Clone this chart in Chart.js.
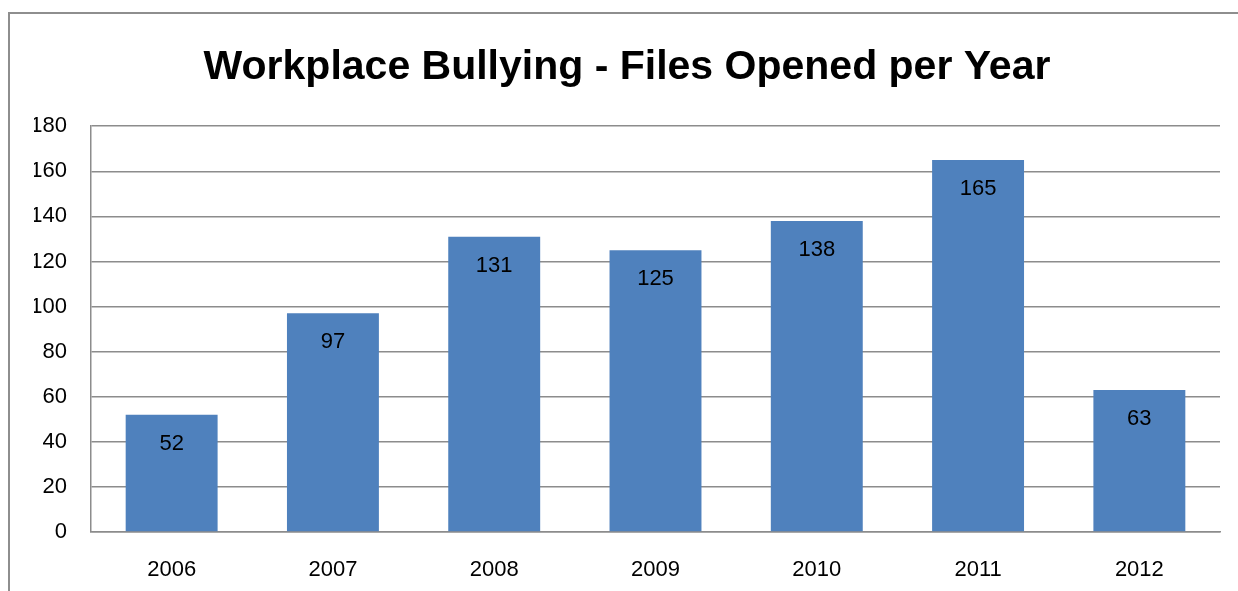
<!DOCTYPE html>
<html>
<head>
<meta charset="utf-8">
<script src="https://cdn.jsdelivr.net/npm/chart.js@4/dist/chart.umd.min.js"></script>
<style>
  html, body { margin: 0; padding: 0; background: #fff; overflow: hidden; }
  #wrap { width: 1238px; height: 591px; position: relative; }
</style>
</head>
<body>
<div id="wrap"><canvas id="chartBullying" width="1238" height="591"></canvas></div>
<script>
const years = ['2006', '2007', '2008', '2009', '2010', '2011', '2012'];
const filesOpened = [52, 97, 131, 125, 138, 165, 63];
const yTicks = [0, 20, 40, 60, 80, 100, 120, 140, 160, 180];

const FONT = "'Liberation Sans', Arial, sans-serif";
const GRID = '#8c8c8c';

// marco gris (izquierda y arriba)
const marco = {
    id: 'marco',
    beforeDraw(chart) {
        const ctx = chart.ctx;
        ctx.save();
        ctx.strokeStyle = '#8e8e8e';
        ctx.lineWidth = 2;
        ctx.beginPath();
        ctx.moveTo(9, 591);
        ctx.lineTo(9, 13);
        ctx.lineTo(1238, 13);
        ctx.stroke();
        ctx.restore();
    }
};

// etiquetas dentro de las barras
const etiquetas = {
    id: 'etiquetas',
    afterDatasetsDraw(chart) {
        const ctx = chart.ctx;
        const meta = chart.getDatasetMeta(0);
        ctx.save();
        ctx.font = '22px ' + FONT;
        ctx.fillStyle = '#000';
        ctx.textAlign = 'center';
        ctx.textBaseline = 'middle';
        meta.data.forEach((bar, i) => {
            ctx.fillText(String(filesOpened[i]), bar.x, bar.y + 29);
        });
        ctx.restore();
    }
};

new Chart(document.getElementById('chartBullying'), {
    type: 'bar',
    data: {
        labels: years,
        datasets: [{
            label: 'Files Opened',
            data: filesOpened,
            backgroundColor: '#4f81bd',
            borderWidth: 0,
            categoryPercentage: 1,
            barPercentage: 0.57
        }]
    },
    options: {
        responsive: false,
        animation: false,
        devicePixelRatio: 1,
        layout: { padding: { left: 34, right: 18, top: 0, bottom: 0 } },
        plugins: {
            legend: { display: false },
            tooltip: { enabled: false },
            title: {
                display: true,
                text: 'Workplace Bullying - Files Opened per Year',
                color: '#000',
                font: { family: FONT, size: 41, weight: 'bold', lineHeight: 1.2 },
                padding: { top: 43, bottom: 34 }
            }
        },
        scales: {
            x: {
                grid: { display: false, drawTicks: false },
                border: { display: true, color: GRID, width: 1.5 },
                ticks: { color: '#000', font: { family: FONT, size: 22 }, padding: 25, maxRotation: 0 },
                afterFit(scale) { scale.height = 59; }
            },
            y: {
                min: 0,
                max: 180,
                afterBuildTicks(scale) { scale.ticks = yTicks.map(v => ({ value: v })); },
                grid: { color: GRID, lineWidth: 1.5, drawTicks: false },
                border: { display: true, color: GRID, width: 1.5 },
                ticks: { color: '#000', font: { family: FONT, size: 22 }, padding: 24 },
                afterFit(scale) { scale.width = 57; }
            }
        }
    },
    plugins: [marco, etiquetas]
});
</script>
</body>
</html>
